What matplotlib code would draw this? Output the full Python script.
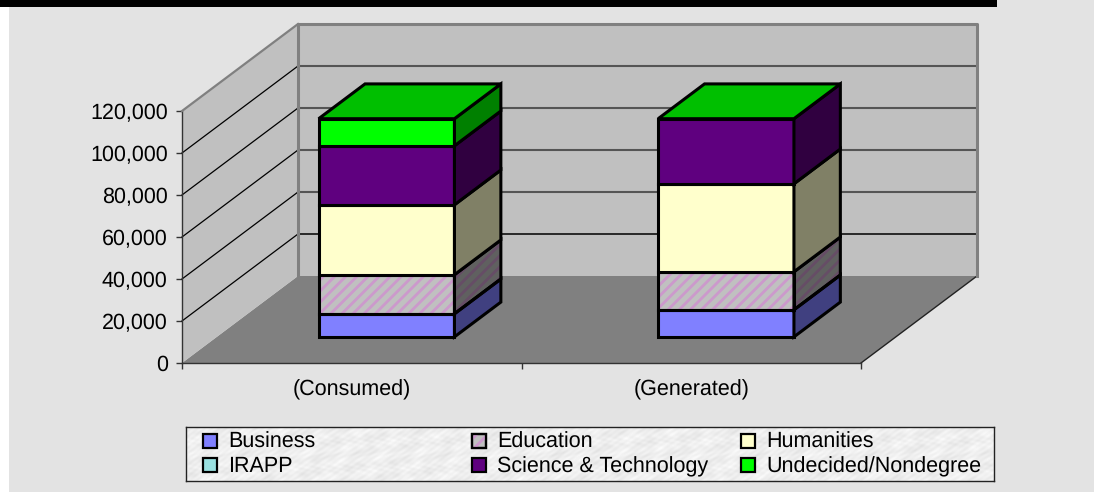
import numpy as np
import matplotlib
matplotlib.use('Agg')
import matplotlib.pyplot as plt
from matplotlib.patches import Polygon, Rectangle

plt.rcParams['font.family'] = ['Liberation Sans', 'DejaVu Sans']
plt.rcParams['hatch.linewidth'] = 2.0
plt.rcParams['text.hinting'] = 'no_hinting'

categories = ['(Consumed)', '(Generated)']
series_names = ['Business', 'Education', 'Humanities', 'IRAPP', 'Science & Technology', 'Undecided/Nondegree']
business = [11000, 12900]
education = [18600, 18100]
humanities = [33300, 41900]
irapp = [0, 0]
science = [28100, 31000]
undecided = [12900, 0]
y_ticks = [0, 20000, 40000, 60000, 80000, 100000, 120000]

series_values = [business, education, humanities, irapp, science, undecided]
face_colors = ['#8080ff', '#c0c0c0', '#ffffcc', '#99e0e0', '#5f007f', '#00ff00']

W, H = 1094, 492
Y_MAX = 120000
DEPTH_X = 116 / 339.5   # category units per unit of floor depth
DEPTH_Y = 87 / 252 * Y_MAX
BAR_WIDTH = 0.4
BAR_NEAR, BAR_FAR = 0.3, 0.7
FONT = 15.5


def shade(color, factor=0.5):
    r, g, b = matplotlib.colors.to_rgb(color)
    return (r * factor, g * factor, b * factor)


def proj(x, y, d):
    return (x + d * DEPTH_X, y + d * DEPTH_Y)


fig = plt.figure(figsize=(W / 100, H / 100), dpi=100, facecolor='white')

# page background and black strip
fig.patches.append(Rectangle((9 / W, 0), 1 - 9 / W, 1, transform=fig.transFigure, fc='#e3e3e3', ec='none', zorder=-5))
fig.patches.append(Rectangle((0, 1 - 7 / H), 997 / W, 7 / H, transform=fig.transFigure, fc='black', ec='none', zorder=-4))

ax = fig.add_axes([182 / W, 1 - 363 / H, 679 / W, 252 / H])
ax.set_xlim(0, 2)
ax.set_ylim(0, Y_MAX)
ax.patch.set_visible(False)
for s in ax.spines.values():
    s.set_visible(False)

# floor and walls
ax.add_patch(Polygon([proj(0, 0, 0), proj(2, 0, 0), proj(2, 0, 1), proj(0, 0, 1)], fc='#808080', ec='none', clip_on=False, zorder=1))
ax.add_patch(Polygon([proj(0, 0, 1), proj(2, 0, 1), proj(2, Y_MAX, 1), proj(0, Y_MAX, 1)], fc='#c0c0c0', ec='none', clip_on=False, zorder=1))
ax.add_patch(Polygon([proj(0, 0, 0), proj(0, 0, 1), proj(0, Y_MAX, 1), proj(0, Y_MAX, 0)], fc='#c0c0c0', ec='none', clip_on=False, zorder=1))

# wall edges
edge_kw = dict(color='#808080', lw=2.2, clip_on=False, zorder=3, solid_capstyle='projecting')
ax.plot(*zip(proj(0, 0, 1), proj(0, Y_MAX, 1), proj(2, Y_MAX, 1), proj(2, 0, 1)), **edge_kw)
ax.plot(*zip(proj(0, Y_MAX, 0), proj(0, Y_MAX, 1)), color='#808080', lw=1.6, clip_on=False, zorder=3)

# gridlines
for v in y_ticks[1:-1]:
    color = '#000000' if v == 20000 else '#555555'
    ax.plot(*zip(proj(0, v, 1), proj(2, v, 1)), color=color, lw=1.5 if v > 20000 else 1.1, clip_on=False, zorder=2)
    ax.plot(*zip(proj(0, v, 0), proj(0, v, 1)), color='black', lw=0.9, clip_on=False, zorder=2)

# floor right edge
ax.plot(*zip(proj(2, 0, 0), proj(2, 0, 1)), color='#222222', lw=1.0, clip_on=False, zorder=2)

# axis lines and ticks
ax.spines['left'].set_visible(True)
ax.spines['left'].set_color('#333333')
ax.spines['bottom'].set_visible(True)
ax.spines['bottom'].set_color('#333333')
ax.spines['left'].set_linewidth(1.0)
ax.spines['bottom'].set_linewidth(1.0)
ax.set_yticks(y_ticks)
ax.set_yticklabels([f'{v:,}' for v in y_ticks], fontsize=FONT, color='black')
ax.set_xticks([0, 1, 2])
ax.set_xticks([0.5, 1.5], minor=True)
ax.set_xticklabels([])
ax.set_xticklabels(categories, minor=True, fontsize=FONT, color='black')
ax.tick_params(axis='y', length=4.3, width=1, color='#333333', pad=6)
ax.tick_params(axis='x', which='major', length=4.3, width=1, color='#333333', direction='out')
ax.tick_params(axis='x', which='minor', length=0, pad=12)

# stacked boxes
outline = dict(ec='black', lw=2.2, joinstyle='miter', clip_on=False)
for c in range(len(categories)):
    x0 = c + 0.5 - BAR_WIDTH / 2
    x1 = c + 0.5 + BAR_WIDTH / 2
    base = 0
    for i, vals in enumerate(series_values):
        v = vals[c]
        if v == 0:
            continue
        top = base + v
        color = face_colors[i]
        front = [proj(x0, base, BAR_NEAR), proj(x1, base, BAR_NEAR), proj(x1, top, BAR_NEAR), proj(x0, top, BAR_NEAR)]
        side = [proj(x1, base, BAR_NEAR), proj(x1, base, BAR_FAR), proj(x1, top, BAR_FAR), proj(x1, top, BAR_NEAR)]
        if series_names[i] == 'Education':
            ax.add_patch(Polygon(front, fc=color, ec='#cc99cc', hatch='///', lw=0, clip_on=False, zorder=5))
            ax.add_patch(Polygon(side, fc=shade(color), ec=shade('#cc99cc'), hatch='///', lw=0, clip_on=False, zorder=5))
            ax.add_patch(Polygon(front, fc='none', zorder=6, **outline))
            ax.add_patch(Polygon(side, fc='none', zorder=6, **outline))
        else:
            ax.add_patch(Polygon(front, fc=color, zorder=6, **outline))
            ax.add_patch(Polygon(side, fc=shade(color), zorder=6, **outline))
        base = top
    # green cap on every column
    cap = [proj(x0, base, BAR_NEAR), proj(x1, base, BAR_NEAR), proj(x1, base, BAR_FAR), proj(x0, base, BAR_FAR)]
    ax.add_patch(Polygon(cap, fc='#00bf00', zorder=7, **outline))

# legend box with a mottled paper fill
leg = fig.add_axes([186 / W, 1 - 481 / H, 808 / W, 54 / H])
leg.set_xlim(186, 994)
leg.set_ylim(481, 427)
xx, yy = np.meshgrid(np.arange(808), np.arange(54))
mottle = (np.sin(xx * 0.11 + yy * 0.29) * np.sin(xx * 0.05 - yy * 0.17)
          + 0.7 * np.sin(xx * 0.37 + np.sin(yy * 0.23) * 4) * np.cos(yy * 0.53 + xx * 0.03)
          + 0.5 * np.sin(xx * 0.83 + yy * 1.1 + 3 * np.sin(xx * 0.02)))
leg.imshow(238 + 6 * mottle, cmap='gray', vmin=0, vmax=255, extent=(186, 994, 481, 427), aspect='auto', interpolation='bilinear')
leg.set_xticks([])
leg.set_yticks([])
for s in leg.spines.values():
    s.set_color('#222222')
    s.set_linewidth(1.0)

legend_x = [203, 472, 741]
legend_y = [441, 465]
legend_order = [[0, 3], [1, 4], [2, 5]]
for col, rows in enumerate(legend_order):
    for row, i in enumerate(rows):
        box = (legend_x[col], legend_y[row] - 7)
        leg.add_patch(Rectangle(box, 14, 14, fc=face_colors[i], ec='black', lw=1.6, zorder=3))
        if series_names[i] == 'Education':
            leg.add_patch(Rectangle(box, 14, 14, fc='none', ec='#cc99cc', hatch='///', lw=0, zorder=3))
            leg.add_patch(Rectangle(box, 14, 14, fc='none', ec='black', lw=1.6, zorder=3))
        leg.text(legend_x[col] + 25, legend_y[row] + 1.5, series_names[i], fontsize=FONT, va='center', ha='left', color='black', zorder=4)

fig.savefig('out.png', dpi=100)
